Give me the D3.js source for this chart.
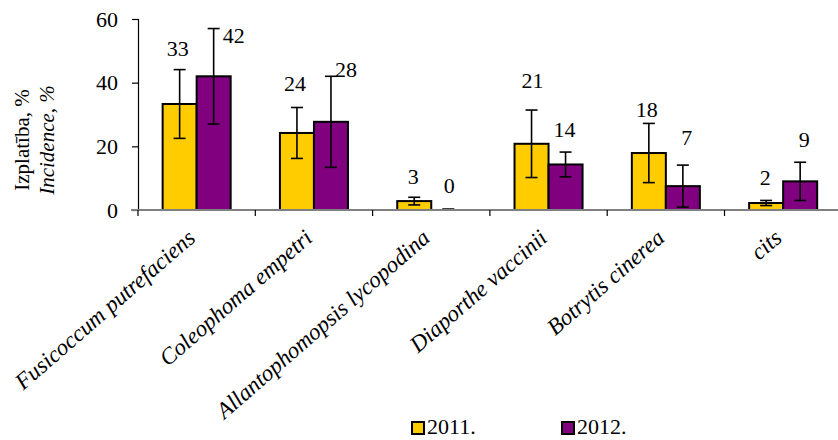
<!DOCTYPE html>
<html>
<head>
<meta charset="utf-8">
<script src="https://cdn.jsdelivr.net/npm/d3@7"></script>
<style>
  body { margin: 0; background: #fff; }
  svg text { font-family: "Liberation Serif", "Times New Roman", serif; fill: #000; }
</style>
</head>
<body>
<div id="chart"></div>
<script>
// data
var categories = ["Fusicoccum putrefaciens", "Coleophoma empetri", "Allantophomopsis lycopodina",
                  "Diaporthe vaccinii", "Botrytis cinerea", "cits"];
var seriesNames = ["2011.", "2012."];
var values2011 = [33.3, 24.2, 2.8, 20.8, 17.9, 2.2];
var values2012 = [42.0, 27.7, 0, 14.3, 7.5, 9.0];
var err2011 = [10.8, 8.0, 1.2, 10.6, 9.3, 0.8];
var err2012 = [15.0, 14.3, 0, 3.9, 6.6, 6.0];
var labels2011 = ["33", "24", "3", "21", "18", "2"];
var labels2012 = ["42", "28", "0", "14", "7", "9"];
var yTicks = [0, 20, 40, 60];

function init() {
    var w = 838;
    var h = 440;
    var colors = ["#ffcc00", "#800080"];

    // label nudges (the original labels were placed by hand)
    var shift2011 = [[-2, 0], [-2, -2], [-1, 1], [1, -8], [-2, 8], [-1, -1]];
    var shift2012 = [[20, 28], [15, 15], [1, -3], [-1, -1], [4, -6], [4, -1]];

    var svg = d3.select("#chart")
                .append("svg")
                .attr("width", w)
                .attr("height", h);

    var left = 138, top = 19, bottom = 210;

    var y = d3.scaleLinear()
              .domain([0, 60])
              .range([bottom, top]);

    var x0 = d3.scaleBand()
               .domain(categories)
               .range([left, left + 6 * 117.3])
               .paddingInner(0.42)
               .paddingOuter(0.21);

    var x1 = d3.scaleBand()
               .domain(seriesNames)
               .range([0, x0.bandwidth()]);

    // y axis
    var yAxis = svg.append("g")
                   .attr("transform", "translate(" + left + ",0)")
                   .call(d3.axisLeft(y).tickValues(yTicks).tickSize(6).tickPadding(14));
    yAxis.select(".domain").attr("stroke", "#000").attr("stroke-width", 1.2);
    yAxis.selectAll(".tick line").attr("stroke", "#000").attr("stroke-width", 1.2);
    yAxis.selectAll("text").style("font-size", "22px");

    // y title
    var title = svg.append("text")
                   .attr("transform", "translate(29,140) rotate(-90)")
                   .attr("text-anchor", "middle")
                   .style("font-size", "21px");
    title.append("tspan").attr("x", 0).attr("dy", 0).text("Izplatība, %");
    title.append("tspan").attr("x", 0).attr("dy", 25).style("font-style", "italic").text("Incidence, %");

    // bars
    var rows = categories.map(function(c, i) {
        return {
            cat: c,
            items: [
                {s: seriesNames[0], v: values2011[i], e: err2011[i], l: labels2011[i], c: colors[0], n: shift2011[i]},
                {s: seriesNames[1], v: values2012[i], e: err2012[i], l: labels2012[i], c: colors[1], n: shift2012[i]}
            ]
        };
    });

    var groups = svg.selectAll("g.grp")
                    .data(rows)
                    .enter()
                    .append("g")
                    .attr("class", "grp")
                    .attr("transform", function(d) { return "translate(" + x0(d.cat) + ",0)"; });

    groups.selectAll("rect")
          .data(function(d) { return d.items.filter(function(it) { return it.v > 0; }); })
          .enter()
          .append("rect")
          .attr("x", function(d) { return x1(d.s); })
          .attr("y", function(d) { return y(d.v); })
          .attr("width", x1.bandwidth())
          .attr("height", function(d) { return y(0) - y(d.v); })
          .attr("fill", function(d) { return d.c; })
          .attr("stroke", "#000")
          .attr("stroke-width", 2);

    // zero-height bar shown as a short dash
    groups.selectAll("line.zero")
          .data(function(d) { return d.items.filter(function(it) { return it.v === 0; }); })
          .enter()
          .append("line")
          .attr("class", "zero")
          .attr("x1", function(d) { return x1(d.s) + 11; })
          .attr("x2", function(d) { return x1(d.s) + x1.bandwidth() - 11; })
          .attr("y1", y(0) - 1)
          .attr("y2", y(0) - 1)
          .attr("stroke", "#000")
          .attr("stroke-width", 1.5);

    // x axis line (gray) and category ticks
    svg.append("line")
       .attr("x1", left - 7).attr("x2", w)
       .attr("y1", y(0)).attr("y2", y(0))
       .attr("stroke", "#808080").attr("stroke-width", 2);

    var step = x0.step();
    svg.selectAll("line.xt")
       .data(d3.range(categories.length + 1))
       .enter()
       .append("line")
       .attr("class", "xt")
       .attr("x1", function(i) { return left + i * step; })
       .attr("x2", function(i) { return left + i * step; })
       .attr("y1", y(0))
       .attr("y2", y(0) + 6)
       .attr("stroke", "#000")
       .attr("stroke-width", 1.2);

    // error bars
    var eb = groups.selectAll("g.err")
                   .data(function(d) { return d.items.filter(function(it) { return it.e > 0; }); })
                   .enter()
                   .append("g")
                   .attr("class", "err")
                   .attr("stroke", "#000")
                   .attr("stroke-width", 1.6);
    var cx = function(d) { return x1(d.s) + x1.bandwidth() / 2; };
    eb.append("line")
      .attr("x1", cx).attr("x2", cx)
      .attr("y1", function(d) { return y(d.v + d.e); })
      .attr("y2", function(d) { return y(d.v - d.e); });
    eb.append("line")
      .attr("x1", function(d) { return cx(d) - 6; }).attr("x2", function(d) { return cx(d) + 6; })
      .attr("y1", function(d) { return y(d.v + d.e); })
      .attr("y2", function(d) { return y(d.v + d.e); });
    eb.append("line")
      .attr("x1", function(d) { return cx(d) - 6; }).attr("x2", function(d) { return cx(d) + 6; })
      .attr("y1", function(d) { return y(d.v - d.e); })
      .attr("y2", function(d) { return y(d.v - d.e); });

    // value labels
    groups.selectAll("text.val")
          .data(function(d) { return d.items; })
          .enter()
          .append("text")
          .attr("class", "val")
          .attr("text-anchor", "middle")
          .style("font-size", "22px")
          .attr("x", function(d) { return cx(d) + d.n[0]; })
          .attr("y", function(d) { return y(d.v + d.e) - 14 + d.n[1]; })
          .text(function(d) { return d.l; });

    // category labels
    svg.selectAll("text.cat")
       .data(categories)
       .enter()
       .append("text")
       .attr("class", "cat")
       .attr("text-anchor", "end")
       .style("font-size", "23px")
       .style("font-style", "italic")
       .attr("transform", function(d) {
           return "translate(" + (x0(d) + x0.bandwidth() / 2) + "," + (y(0) + 30) + ") rotate(-41)";
       })
       .text(function(d) { return d; });

    // legend
    var legend = svg.selectAll("g.leg")
                    .data(seriesNames)
                    .enter()
                    .append("g")
                    .attr("class", "leg")
                    .attr("transform", function(d, i) { return "translate(" + (412 + i * 150) + ",422)"; });
    legend.append("rect")
          .attr("width", 12).attr("height", 12)
          .attr("fill", function(d, i) { return colors[i]; })
          .attr("stroke", "#000").attr("stroke-width", 2);
    legend.append("text")
          .attr("x", 15).attr("y", 12)
          .style("font-size", "22px")
          .text(function(d) { return d; });
}

window.onload = init;
</script>
</body>
</html>
